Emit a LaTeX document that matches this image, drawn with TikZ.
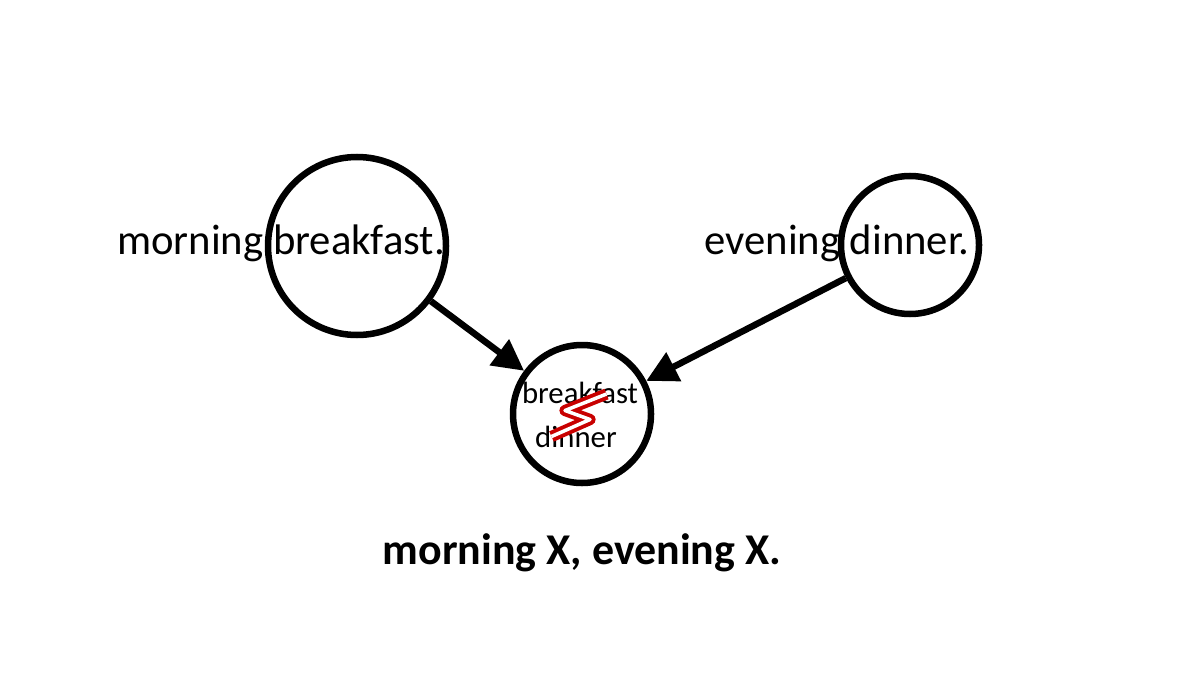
\documentclass[tikz,border=0pt]{standalone}
\usepackage{fontspec}
\setmainfont{Carlito}
\usepackage{tikz}
\usetikzlibrary{arrows.meta,positioning}
\definecolor{zigred}{RGB}{200,0,0}

\begin{document}
\begin{tikzpicture}[
    meal/.style={circle, draw=black, line width=3.7pt, minimum size=3.56cm, inner sep=0pt},
    clash/.style={circle, draw=black, line width=3.7pt, minimum size=2.76cm, inner sep=0pt},
    phrase/.style={font=\fontsize{24.3}{28}\selectfont},
    small/.style={font=\fontsize{17.5}{21}\selectfont},
    arrow/.style={-{Triangle[length=0.62cm, width=0.62cm]}, line width=3.7pt}
]
    \useasboundingbox (0,0) rectangle (24,13.5);

    % Circles
    \node[meal] (breakfast) at (7.14,8.58) {};
    \node[clash] (dinner) at (18.2,8.6) {};
    \node[clash] (both) at (11.64,5.22) {};

    % Texts
    \node[phrase] (mb) at (5.62,8.64) {morning breakfast.};
    \node[phrase] (ed) at (16.74,8.64) {evening dinner.};
    \node[small] (bf) at (11.6,5.64) {breakfast};
    \node[small] (dn) at (11.52,4.76) {dinner};
    \node[phrase, font=\fontsize{25}{29}\selectfont\bfseries] (result) at (11.64,2.44) {morning X, evening X.};

    % Conflict mark
    \draw[zigred, line width=2.2pt, double=white, double distance=2pt, line join=round]
        (11.03,4.77) -- (11.8,5.11) -- (11.3,5.29) -- (12.13,5.62);

    % Arrows
    \draw[arrow] (breakfast) -- (both);
    \draw[arrow] (dinner) -- (both);
\end{tikzpicture}
\end{document}
